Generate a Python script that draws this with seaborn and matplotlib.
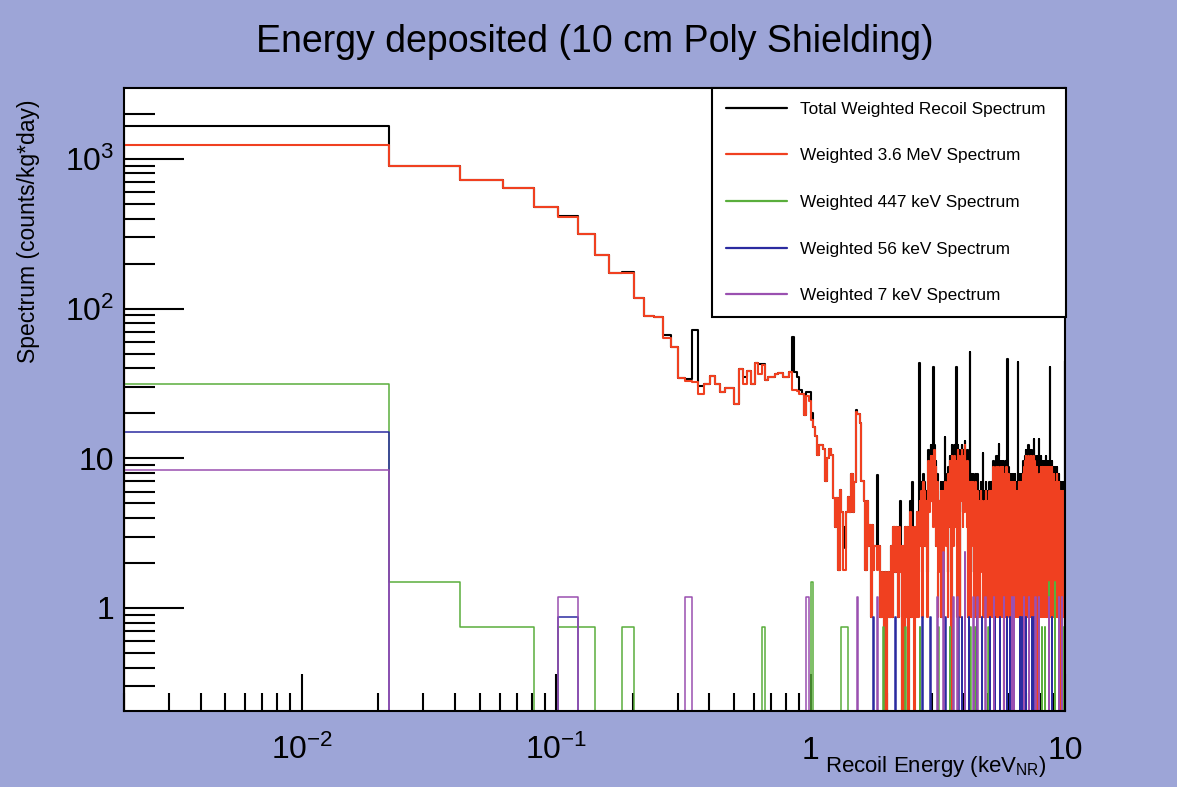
import numpy as np
import matplotlib
matplotlib.use("Agg")
import matplotlib.pyplot as plt
from matplotlib.ticker import NullFormatter
import seaborn as sns

#-----------------------------------------------------------------------
# histogram binning (linear bins of the ROOT histogram)
bin_lo = 0.002
bin_width = 0.02
n_bins = 500
count_weight = 0.87      # counts/kg*day of one entry in the 3.6 MeV / total spectrum
y_min, y_max = 0.206, 2978.0

# bins 0..94, read bin by bin
red_low = [1242, 897, 723, 641, 476, 410, 314, 227, 174, 174,
           117, 89, 88, 64, 55, 34.6, 33, 32.4, 26.7, 31.5,
           35.3, 31.5, 27.7, 29.6, 29.6, 23.2, 39.8, 31.5, 38.3, 31.5,
           43.3, 36.8, 41.7, 33.1, 34.9, 34.9, 36.4, 37.2, 37.2, 34.9,
           34.9, 37.7, 28.5, 28.5, 28, 27, 27, 19.6, 26, 24,
           17.9, 16.2, 14.2, 10.5, 12.2, 12.2, 11.6, 7.0, 10, 11.6,
           10.5, 5.4, 3.5, 5.4, 1.8, 6.1, 4.4, 1.8, 1.8, 4.4,
           5.5, 4.4, 7.9, 4.4, 6.9, 20.3, 19.8, 19.8, 17.2, 7.1,
           7.1, 5.2, 1.8, 5.2, 2.6, 3.6, 0.87, 3.6, 1.8, 2.6,
           2.6, 1.8, 2.6, 2.6, 0.87]
total_low = [1665, 897, 723, 641, 476, 416, 314, 227, 174, 177,
             117, 89, 88, 67, 55, 34.6, 33.7, 71.8, 30.5, 31.5,
             35.3, 31.5, 27.7, 29.6, 29.6, 23.2, 39.8, 34.9, 38.3, 31.5,
             43.3, 42.8, 42.8, 33.1, 34.9, 34.9, 36.4, 37.2, 37.2, 34.9,
             34.9, 37.7, 64.4, 37.7, 35, 28.5, 27, 19.6, 27.7, 27.7,
             20, 16.2, 14.2, 10.5, 12.2, 12.2, 11.6, 7.0, 10, 11.6,
             10.5, 5.4, 3.5, 5.4, 1.8, 6.1, 4.4, 3.5, 2.5, 4.4,
             5.5, 4.4, 7.9, 4.4, 6.9, 21, 19.8, 19.8, 17.2, 7.1,
             7.1, 5.2, 1.8, 5.2, 2.6, 3.6, 0.87, 3.6, 1.8, 2.6,
             2.6, 7.7, 2.6, 2.6, 0.87]

# bins 95..499 (dense part above ~2 keV), entries per bin in base 36
red_hi = ("21020121314424314230"
          "30411" "40351" "41043" "15146" "37184" "73618" "b59c6"
          "9c4d7" "a3812" "63715" "71648" "37519" "6b40c" "5a3c8" "4b71d" "95c1a" "6d84b"
          "c5e7a" "4b613" "85718" "46831" "52816" "37516" "41275" "36512" "54617" "42613"
          "53716" "64715" "5a619" "481a3" "951a4" "8316a" "57194" "a6809" "5917a" "63159"
          "74816" "58314" "62817" "36812" "75316" "47218" "53716" "82513" "68195" "7a18b"
          "5c714" "b6a1c" "85b14" "a6c19" "7b1a6" "c591b" "6a185" "907a6" "48517" "39615"
          "7a416" "81a57" "491a3" "85917" "a6185" "941a6" "38514" "7a619" "5817a" "64158"
          "84917" "38614" "75816" "94718" "36817" "52714" "73602" "64715" "72617" "36514")
# extra entries of the total spectrum on top of the 3.6 MeV one
total_extra_hi = ("00000000000000000400"
                  "00000" "00010" "40100" "10101" "11211" "10110" "21120"
                  "11011" "10121" "01101" "12101" "10211" "11012" "10121" "11021" "12101" "11112"
                  "11111" "12101" "11011" "10121" "11101" "12011" "11111" "10211" "11101" "12111"
                  "11111" "21101" "11211" "10121" "11123" "11211" "21101" "11211" "12101" "11211"
                  "12111" "11211" "12101" "21111" "11211" "11111" "21101" "11211" "11121" "11111"
                  "11211" "11112" "21111" "11121" "11211" "12131" "11211" "11121" "11212" "11111"
                  "12111" "21111" "11211" "11121" "21111" "11211" "11121" "21111" "11211" "11121"
                  "11111" "12111" "21111" "11211" "11111" "12111" "11111" "21111" "11211" "11111")
total_spikes = {133: 43, 152: 40.7, 168: 13.8, 187: 40.7, 211: 51, 237: 10.8,
                274: 12.4, 297: 46, 326: 44, 377: 13.5, 394: 13.5, 437: 40.7, 499: 45}

green_bins = {0: 31.2, 1: 1.5, 2: 0.75, 3: 0.75, 5: 0.75, 6: 0.75, 9: 0.75, 32: 0.75,
              50: 1.5, 66: 0.75, 67: 0.75, 68: 0.75, 69: 0.75, 96: 0.75, 117: 0.75,
              134: 0.75, 159: 0.75, 176: 0.75, 212: 0.75, 221: 0.75, 250: 0.75,
              310: 0.75, 405: 0.75, 418: 0.75, 431: 1.5, 457: 1.5, 494: 0.75}
blue_bins = {0: 14.9, 5: 0.87, 88: 0.87, 107: 0.87, 137: 0.87, 147: 0.87, 169: 0.87,
             190: 0.87, 196: 0.87, 202: 0.87, 209: 0.87, 225: 0.87, 235: 0.87,
             253: 0.87, 265: 0.87, 277: 0.87, 295: 0.87, 303: 0.87, 332: 0.87,
             336: 0.87, 341: 0.87, 351: 0.87, 361: 0.87, 371: 0.87, 376: 0.87,
             381: 0.87, 395: 0.87, 444: 0.87, 473: 0.87, 486: 0.87}
purple_bins = {0: 8.4, 5: 1.19, 16: 1.19, 48: 1.19, 76: 1.19, 91: 1.19, 157: 1.19,
               166: 2.38, 182: 1.19, 188: 1.19, 202: 2.38, 218: 1.19, 226: 1.19,
               243: 1.19, 262: 1.19, 287: 1.19, 309: 1.19, 314: 1.19, 344: 1.19,
               360: 1.19, 382: 1.19, 394: 1.19, 431: 1.19, 472: 1.19, 486: 1.19, 499: 1.19}

labels = ["Total Weighted Recoil Spectrum", "Weighted 3.6 MeV Spectrum",
          "Weighted 447 keV Spectrum", "Weighted 56 keV Spectrum", "Weighted 7 keV Spectrum"]
colors = ["#000000", "#f04020", "#5aae3c", "#2b2ba0", "#9a50b0"]
widths = [1.5, 1.5, 1.1, 1.1, 1.1]

#-----------------------------------------------------------------------
# build the bin contents
assert len(red_hi) == len(total_extra_hi) == n_bins - len(red_low)
red = np.array(red_low + [int(c, 36) * count_weight for c in red_hi], dtype=float)
total = np.array(total_low + [(int(r, 36) + int(e, 36)) * count_weight
                              for r, e in zip(red_hi, total_extra_hi)], dtype=float)
for k, v in total_spikes.items():
    total[k] = v

def from_sparse(d):
    arr = np.zeros(n_bins)
    for k, v in d.items():
        arr[k] = v
    return arr

series = [total, red, from_sparse(green_bins), from_sparse(blue_bins), from_sparse(purple_bins)]
edges = bin_lo + bin_width * np.arange(n_bins + 1)

def step_xy(values):
    # ROOT draws empty bins on the bottom of the frame
    v = np.where(values > 0, values, y_min)
    x = np.concatenate([[edges[0]], edges, [edges[-1]]])
    y = np.concatenate([[y_min], v, [v[-1], y_min]])
    return x, y

#-----------------------------------------------------------------------
sns.set_style("ticks", {"text.color": "black", "axes.labelcolor": "black",
                        "xtick.color": "black", "ytick.color": "black"})
plt.rcParams['font.family'] = ['Liberation Sans', 'DejaVu Sans']
plt.rcParams['mathtext.fontset'] = 'custom'
plt.rcParams['mathtext.rm'] = 'Liberation Sans'
plt.rcParams['mathtext.it'] = 'Liberation Sans:italic'
plt.rcParams['mathtext.bf'] = 'Liberation Sans:bold'

bg = "#9da5d7"
fig = plt.figure(figsize=(11.77, 7.87), dpi=100, facecolor=bg)
ax = fig.add_axes([124/1177, 1 - 710.7/787, 941/1177, 622.7/787])
ax.set_facecolor("white")
ax.set_xscale("log")
ax.set_yscale("log")

for vals, lab, col, lw in zip(series, labels, colors, widths):
    x, y = step_xy(vals)
    sns.lineplot(x=x, y=y, sort=False, estimator=None, drawstyle="steps-post",
                 color=col, linewidth=lw, label=lab, ax=ax)

ax.set_xlim(edges[0], edges[-1])
ax.set_ylim(y_min, y_max)

ax.set_xticks([0.01, 0.1, 1, 10], labels=["$10^{-2}$", "$10^{-1}$", "1", "10"])
ax.set_yticks([1, 10, 100, 1000], labels=["1", "10", "$10^{2}$", "$10^{3}$"])
ax.xaxis.set_minor_formatter(NullFormatter())
ax.yaxis.set_minor_formatter(NullFormatter())
ax.tick_params(which="both", direction="in", width=1.5, color="black", top=False, right=False)
ax.tick_params(axis="y", which="major", length=43, pad=7, labelsize=23)
ax.tick_params(axis="y", which="minor", length=22)
ax.tick_params(axis="x", which="major", length=27, pad=35, labelsize=23)
ax.tick_params(axis="x", which="minor", length=13)
for t in ax.get_xticklabels():
    t.set_va("baseline")
for s in ax.spines.values():
    s.set_linewidth(1.5)
    s.set_color("black")

ax.set_title("Energy deposited (10 cm Poly Shielding)", fontsize=27, pad=26, color="black")
ax.set_ylabel("Spectrum (counts/kg*day)", fontsize=16.5, va="center")
ax.yaxis.set_label_coords(-0.102, 0.7695)
ax.set_xlabel("Recoil Energy (keV$_{\\mathregular{NR}}$)", fontsize=16, loc="right")
ax.xaxis.label.set_va("baseline")
ax.xaxis.set_label_coords(0.9805, -0.098)

leg = ax.legend(loc="upper left", bbox_to_anchor=(712/1177, 0.5, 354/1177, 1 - 88/787 - 0.5),
                bbox_transform=fig.transFigure, mode="expand", borderaxespad=0,
                fontsize=12.4, labelspacing=1.83, borderpad=0.8, handlelength=3.55,
                handletextpad=0.75, fancybox=False, framealpha=1, edgecolor="black")
leg.get_frame().set_linewidth(1.5)
for h in leg.get_lines():
    h.set_linewidth(1.6)

fig.savefig("out.png", dpi=100, facecolor=fig.get_facecolor())
